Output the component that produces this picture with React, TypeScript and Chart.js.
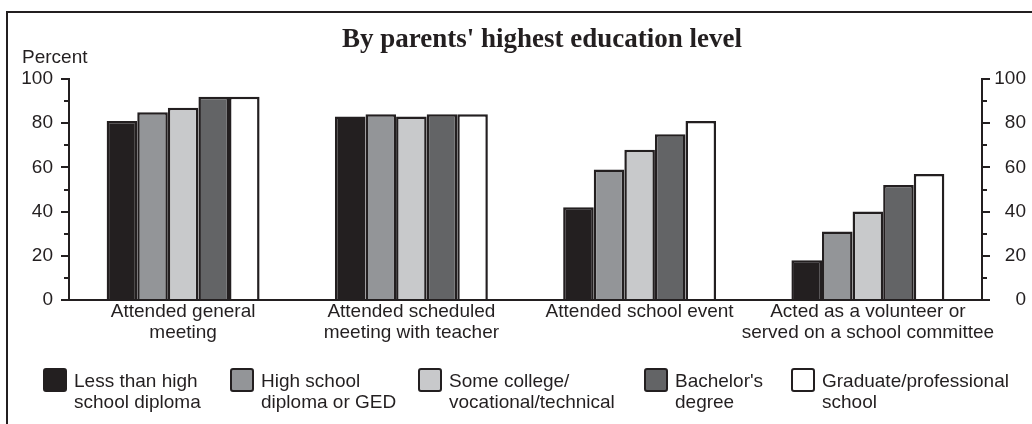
import React, { useEffect, useRef } from "react";
import { Chart, registerables } from "chart.js";

Chart.register(...registerables);

const categories: string[][] = [
  ["Attended general", "meeting"],
  ["Attended scheduled", "meeting with teacher"],
  ["Attended school event"],
  ["Acted as a volunteer or", "served on a school committee"],
];

const seriesNames: string[][] = [
  ["Less than high", "school diploma"],
  ["High school", "diploma or GED"],
  ["Some college/", "vocational/technical"],
  ["Bachelor's", "degree"],
  ["Graduate/professional", "school"],
];

const lessThanHighSchool = [81, 83, 42, 18];
const highSchoolOrGED = [85, 84, 59, 31];
const someCollege = [87, 83, 68, 40];
const bachelors = [92, 84, 75, 52];
const graduateProfessional = [92, 84, 81, 57];

const seriesColors = ["#231f20", "#939598", "#c8c9cb", "#636466", "#ffffff"];

const yTicks = [0, 20, 40, 60, 80, 100];
const yMinorTicks = [10, 30, 50, 70, 90];

const titleText = "By parents' highest education level";
const yAxisTitle = "Percent";

const INK = "#231f20";
const SANS = '"Liberation Sans", Arial, sans-serif';
const SERIF = '"Liberation Serif", "Times New Roman", serif';

const decorPlugin = {
  id: "decor",
  beforeDraw(chart: any) {
    const ctx = chart.ctx;
    ctx.save();
    ctx.fillStyle = "#ffffff";
    ctx.fillRect(0, 0, chart.width, chart.height);
    ctx.strokeStyle = INK;
    ctx.lineWidth = 2;
    ctx.beginPath();
    ctx.moveTo(7, chart.height);
    ctx.lineTo(7, 12);
    ctx.lineTo(chart.width, 12);
    ctx.stroke();
    ctx.restore();
  },
  afterDraw(chart: any) {
    const ctx = chart.ctx;
    const area = chart.chartArea;
    ctx.save();
    // minor ticks
    ctx.strokeStyle = INK;
    ctx.lineWidth = 2;
    const yl = chart.scales.y;
    const yr = chart.scales.y2;
    yMinorTicks.forEach((v) => {
      const py = Math.round(yl.getPixelForValue(v));
      ctx.beginPath();
      ctx.moveTo(area.left - 5, py);
      ctx.lineTo(area.left, py);
      ctx.stroke();
      const pr = Math.round(yr.getPixelForValue(v));
      ctx.beginPath();
      ctx.moveTo(area.right, pr);
      ctx.lineTo(area.right + 5, pr);
      ctx.stroke();
    });
    // title
    ctx.fillStyle = INK;
    ctx.font = "bold 27px " + SERIF;
    ctx.textAlign = "center";
    ctx.textBaseline = "alphabetic";
    ctx.fillText(titleText, 542, 47);
    // y axis title
    ctx.font = "19px " + SANS;
    ctx.textAlign = "left";
    ctx.fillText(yAxisTitle, 22, 63);
    // legend
    const boxX = [43, 230, 418, 644, 791];
    chart.data.datasets.forEach((ds: any, i: number) => {
      const x = boxX[i];
      ctx.fillStyle = ds.backgroundColor;
      ctx.strokeStyle = INK;
      ctx.lineWidth = 2;
      ctx.beginPath();
      if (ctx.roundRect) ctx.roundRect(x + 1, 369, 22, 22, 2);
      else ctx.rect(x + 1, 369, 22, 22);
      ctx.fill();
      ctx.stroke();
      ctx.fillStyle = INK;
      ctx.font = "19px " + SANS;
      ctx.textAlign = "left";
      const lines: string[] = seriesNames[i];
      lines.forEach((ln, j) => {
        ctx.fillText(ln, x + 31, 387 + j * 21);
      });
    });
    ctx.restore();
  },
};

export default function App() {
  const ref = useRef<HTMLCanvasElement | null>(null);
  useEffect(() => {
    if (!ref.current) return;
    const values = [lessThanHighSchool, highSchoolOrGED, someCollege, bachelors, graduateProfessional];
    const chart = new Chart(ref.current, {
      type: "bar",
      data: {
        labels: categories,
        datasets: values.map((d, i) => ({
          label: seriesNames[i].join(" "),
          data: d,
          backgroundColor: seriesColors[i],
          borderColor: INK,
          borderWidth: 2.5,
          categoryPercentage: 0.67,
          barPercentage: 1.0,
        })),
      },
      options: {
        responsive: false,
        animation: false,
        devicePixelRatio: 1,
        layout: { padding: { top: 79, left: 0, right: 6, bottom: 0 } },
        plugins: {
          legend: { display: false },
          title: { display: false },
          tooltip: { enabled: false },
        },
        scales: {
          x: {
            type: "category",
            grid: { display: false, drawTicks: false },
            border: { display: true, color: INK, width: 2 },
            ticks: {
              color: INK,
              padding: 1,
              maxRotation: 0,
              autoSkip: false,
              font: { family: SANS, size: 19, lineHeight: 1.13 },
            },
            afterFit: (s: any) => {
              s.height = 124;
            },
          },
          y: {
            position: "left",
            min: 0,
            max: 100,
            afterBuildTicks: (s: any) => {
              s.ticks = yTicks.map((v) => ({ value: v }));
            },
            grid: { drawOnChartArea: false, drawTicks: true, tickLength: 8, color: INK, lineWidth: 2 },
            border: { display: true, color: INK, width: 2 },
            ticks: {
              color: INK,
              padding: 8,
              font: { family: SANS, size: 19 },
            },
            afterFit: (s: any) => {
              s.width = 69;
            },
          },
          y2: {
            position: "right",
            min: 0,
            max: 100,
            afterBuildTicks: (s: any) => {
              s.ticks = yTicks.map((v) => ({ value: v }));
            },
            grid: { drawOnChartArea: false, drawTicks: true, tickLength: 8, color: INK, lineWidth: 2 },
            border: { display: true, color: INK, width: 2 },
            ticks: {
              color: INK,
              padding: 5,
              crossAlign: "far",
              font: { family: SANS, size: 19 },
            },
            afterFit: (s: any) => {
              s.width = 44;
            },
          },
        },
      },
      plugins: [decorPlugin],
    } as any);
    return () => chart.destroy();
  }, []);
  return (
    <div style={{ position: "absolute", left: 0, top: 0, width: 1032, height: 424 }}>
      <canvas ref={ref} width={1032} height={424} style={{ display: "block", width: 1032, height: 424 }} />
    </div>
  );
}
